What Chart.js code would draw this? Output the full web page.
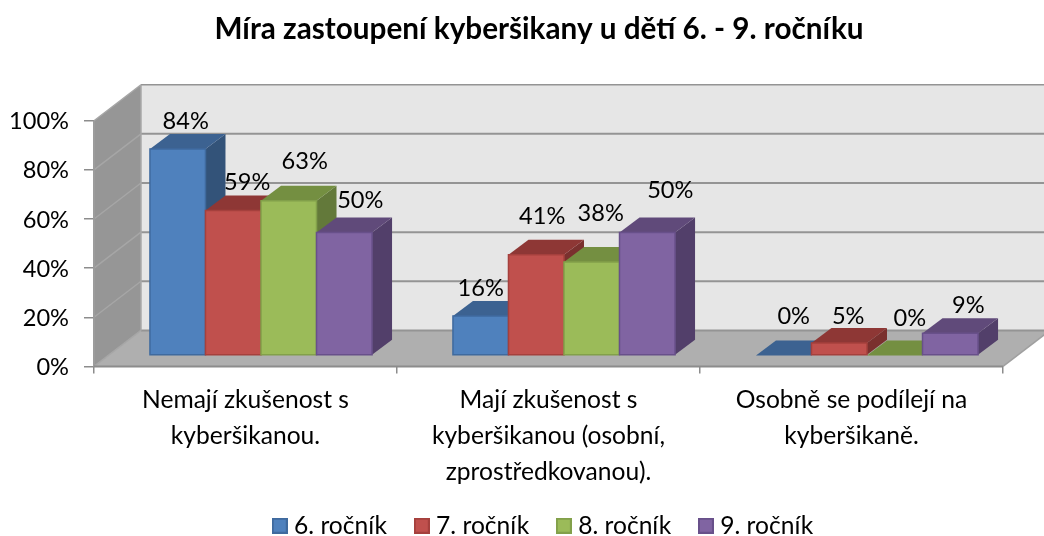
<!DOCTYPE html>
<html><head><meta charset="utf-8">
<style>html,body{margin:0;padding:0;background:#fff}canvas{display:block}</style>
<script src="https://cdn.jsdelivr.net/npm/chart.js@4/dist/chart.umd.min.js"></script>
</head><body><canvas id="c" width="1044" height="536" style="width:1044px;height:536px"></canvas>
<script>
const titleText = 'Míra zastoupení kyberšikany u dětí 6. - 9. ročníku';
const categories = [
  ['Nemají zkušenost s','kyberšikanou.'],
  ['Mají zkušenost s','kyberšikanou (osobní,','zprostředkovanou).'],
  ['Osobně se podílejí na','kyberšikaně.']
];
const seriesNames = ['6. ročník','7. ročník','8. ročník','9. ročník'];
const grade6 = [84,16,0];
const grade7 = [59,41,5];
const grade8 = [63,38,0];
const grade9 = [50,50,9];
const seriesValues = [grade6,grade7,grade8,grade9];
const yTicks = [0,20,40,60,80,100];

const fronts = ['#4F81BD','#C0504D','#9BBB59','#8064A2'];
const edges  = ['#3F6A9E','#A5403D','#82A04A','#68508A'];
const tops   = ['#3C6291','#8E3735','#748F41','#604A7A'];
const sides  = ['#335379','#7A302E','#63793A','#523F6A'];
// pixel nudges of the value labels from each bar's top, per series / category
const labelDX = [[8,0,10],[14,6,9],[16,9,15],[16,23,18]];
const labelDY = [[28,28,39],[28,38,27],[39,49,37],[32,42,28]];
const WALL = {dx:47, dy:-36};
const BAR = {fx:15.5, fy:-11, dx:20, dy:-15};
const FONT = 'Lato, Carlito, sans-serif';

function poly(ctx, pts, fill, stroke, lw){
  ctx.beginPath();
  pts.forEach((p,i)=> i?ctx.lineTo(p[0],p[1]):ctx.moveTo(p[0],p[1]));
  ctx.closePath();
  if(fill){ctx.fillStyle=fill;ctx.fill();}
  if(stroke){ctx.strokeStyle=stroke;ctx.lineWidth=lw||1;ctx.stroke();}
}
function line(ctx,x1,y1,x2,y2,c,w){ctx.beginPath();ctx.moveTo(x1,y1);ctx.lineTo(x2,y2);ctx.strokeStyle=c;ctx.lineWidth=w;ctx.stroke();}
function swatch(fill,edge){
  const cv=document.createElement('canvas');cv.width=16;cv.height=16;
  const c=cv.getContext('2d');c.fillStyle=fill;c.fillRect(0,0,16,16);
  c.strokeStyle=edge;c.lineWidth=2;c.strokeRect(1,1,14,14);
  return cv;
}

const box3d = {
  id:'box3d',
  afterLayout(chart){
    chart.titleBlock.left+=37.5;chart.titleBlock.right+=37.5;
    chart.legend.left+=44;chart.legend.right+=44;
    chart.legend.top+=12;chart.legend.bottom+=12;
    chart.scales.x.bottom=500;
  },
  beforeDatasetsDraw(chart){
    const {ctx,chartArea:a,scales:{y}} = chart;
    const d=WALL, L=a.left,R=a.right,T=a.top,B=a.bottom, b=BAR;
    ctx.save();
    poly(ctx,[[L+d.dx,T+d.dy],[R+d.dx,T+d.dy],[R+d.dx,B+d.dy],[L+d.dx,B+d.dy]],'#E6E6E6');
    poly(ctx,[[L,T],[L+d.dx,T+d.dy],[L+d.dx,B+d.dy],[L,B]],'#969696');
    poly(ctx,[[L,B],[L+d.dx,B+d.dy],[R+d.dx,B+d.dy],[R,B]],'#AFAFAF');
    yTicks.forEach(v=>{
      const p=y.getPixelForValue(v);
      line(ctx,L+d.dx,p+d.dy,R+d.dx,p+d.dy,'#949494',v===100?1.5:2);
      line(ctx,L,p,L+d.dx,p+d.dy,'#A6A6A6',1.5);
    });
    line(ctx,L+d.dx,T+d.dy,L+d.dx,B+d.dy,'#A8A8A8',1.5);
    line(ctx,L,T,L,B,'#9C9C9C',2);
    line(ctx,L,B,R,B,'#8C8C8C',2);
    line(ctx,R,B,R+d.dx,B+d.dy,'#A0A0A0',1.5);
    // bars, in series order so later series overlap earlier ones
    const n=chart.data.labels.length;
    for(let i=0;i<n;i++){
      chart.data.datasets.forEach((ds,s)=>{
        const el=chart.getDatasetMeta(s).data[i];
        const x0=el.x-el.width/2+b.fx, x1=el.x+el.width/2+b.fx;
        const y0=el.y+b.fy, y1=el.base+b.fy;
        poly(ctx,[[x1,y0],[x1+b.dx,y0+b.dy],[x1+b.dx,y1+b.dy],[x1,y1]],sides[s]);
        poly(ctx,[[x0,y0],[x0+b.dx,y0+b.dy],[x1+b.dx,y0+b.dy],[x1,y0]],tops[s]);
        if(y1-y0>0.5) poly(ctx,[[x0,y0],[x1,y0],[x1,y1],[x0,y1]],fronts[s],edges[s],1.5);
      });
    }
    ctx.restore();
  },
  beforeDatasetDraw(){ return false; },
  afterDatasetsDraw(chart){
    const {ctx}=chart;
    ctx.save();
    ctx.fillStyle='#000';ctx.font='23.6px '+FONT;ctx.textAlign='center';ctx.textBaseline='middle';
    chart.data.datasets.forEach((ds,s)=>{
      chart.getDatasetMeta(s).data.forEach((el,i)=>{
        ctx.fillText(ds.data[i]+'%',el.x+BAR.fx+labelDX[s][i],el.y+BAR.fy-labelDY[s][i]);
      });
    });
    ctx.restore();
  }
};

new Chart(document.getElementById('c'),{
  type:'bar',
  data:{labels:categories,datasets:seriesNames.map((n,i)=>({
    label:n,data:seriesValues[i],backgroundColor:fronts[i],borderColor:edges[i],borderWidth:2,
    categoryPercentage:0.733,barPercentage:1
  }))},
  options:{
    responsive:false,animation:false,devicePixelRatio:1,
    layout:{padding:{left:0,right:41,top:0,bottom:0}},
    plugins:{
      title:{display:true,text:titleText,color:'#000',font:{family:FONT,size:29.7,weight:'bold',lineHeight:1.2},padding:{top:11.3,bottom:73.8}},
      legend:{position:'bottom',labels:{color:'#000',font:{family:FONT,size:24.6},usePointStyle:true,pointStyleWidth:4,boxWidth:15,boxHeight:15,padding:32.7,
        generateLabels(chart){
          return chart.data.datasets.map((ds,i)=>({text:ds.label,fontColor:'#000',datasetIndex:i,pointStyle:swatch(fronts[i],edges[i]),hidden:false}));
        }}},
      tooltip:{enabled:false}
    },
    scales:{
      x:{
        afterFit(s){s.height=102.3;},
        grid:{drawOnChartArea:false,drawTicks:true,tickLength:7,color:'#8C8C8C',lineWidth:1.5,offset:true},
        border:{display:false},
        ticks:{color:'#000',font:{family:FONT,size:24.6,lineHeight:36/24.6},maxRotation:0,autoSkip:false,padding:9}
      },
      y:{
        min:0,max:100,
        afterFit(s){s.width=94;},
        afterBuildTicks(s){s.ticks=yTicks.map(v=>({value:v}));},
        grid:{drawOnChartArea:false,tickLength:10,color:'#8C8C8C',lineWidth:1.5},
        border:{display:false},
        ticks:{color:'#000',font:{family:FONT,size:23.6},padding:15,labelOffset:1,callback:v=>v+'%'}
      }
    }
  },
  plugins:[box3d]
});
</script>
</body></html>
